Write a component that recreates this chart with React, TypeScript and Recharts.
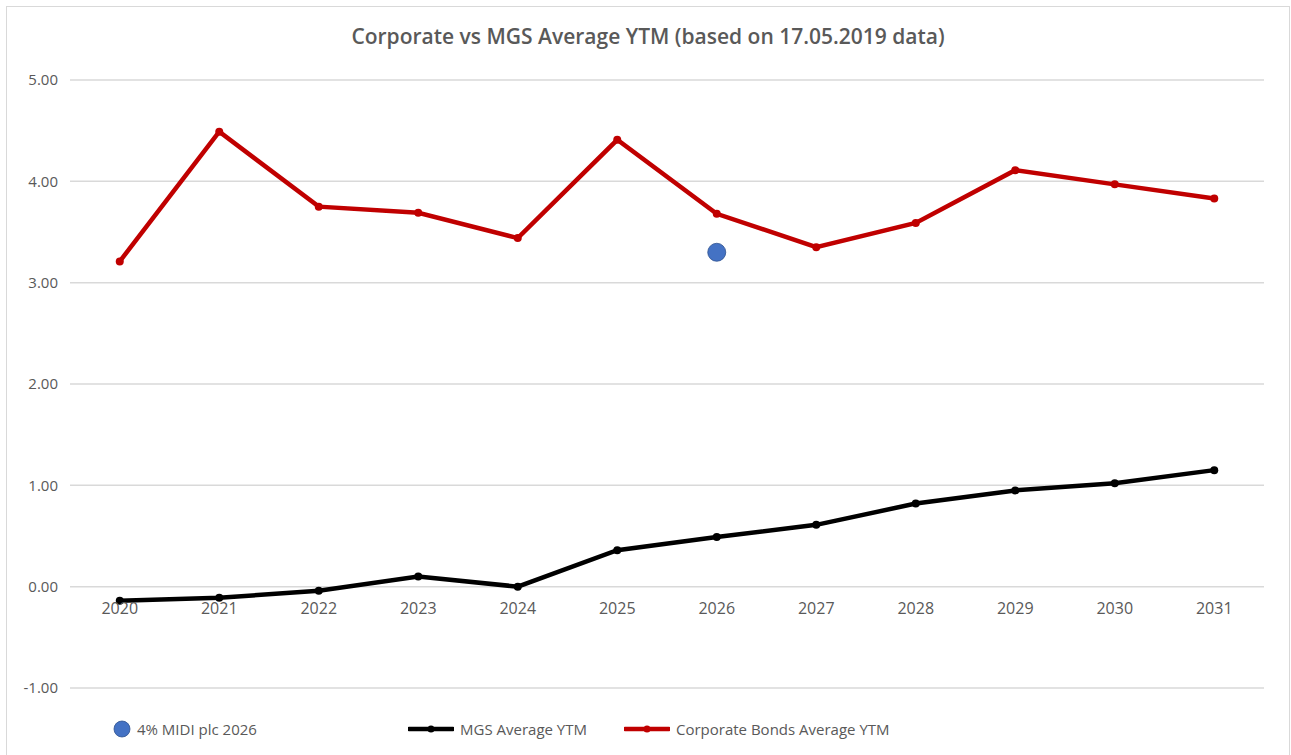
import React from 'react'
import {
  ComposedChart, Line, XAxis, YAxis, CartesianGrid, ReferenceDot
} from 'recharts'

const years = ['2020', '2021', '2022', '2023', '2024', '2025', '2026', '2027', '2028', '2029', '2030', '2031']
const corporateYtm = [3.21, 4.49, 3.75, 3.69, 3.44, 4.41, 3.68, 3.35, 3.59, 4.11, 3.97, 3.83]
const mgsYtm = [-0.14, -0.11, -0.04, 0.10, 0.0, 0.36, 0.49, 0.61, 0.82, 0.95, 1.02, 1.15]
const midiYtm = [null, null, null, null, null, null, 3.30, null, null, null, null, null]
const yTicks = [-1, 0, 1, 2, 3, 4, 5]

const data = years.map((year, i) => ({
  year,
  corporate: corporateYtm[i],
  mgs: mgsYtm[i],
  midi: midiYtm[i],
}))

const FONT = '"Open Sans", "Liberation Sans", sans-serif'
const TEXT = '#595959'
const W = 1282
const H = 748

function LegendRow() {
  const item: React.CSSProperties = { position: 'absolute', top: 0, display: 'flex', alignItems: 'center', height: 20 }
  const label: React.CSSProperties = { fontSize: 15, color: TEXT, marginLeft: 6, whiteSpace: 'nowrap' }
  const lineKey = (color: string) => (
    <svg width={46} height={12}>
      <line x1={1} y1={6} x2={45} y2={6} stroke={color} strokeWidth={4.5} strokeLinecap="round" />
      <circle cx={23} cy={6} r={3.5} fill={color} />
    </svg>
  )
  return (
    <div style={{ position: 'absolute', left: 0, top: 712, width: W, height: 20, fontFamily: FONT }}>
      <div style={{ ...item, left: 106 }}>
        <svg width={18} height={18}><circle cx={9} cy={9} r={8} fill="#4472c4" stroke="#2f528f" strokeWidth={0.8} /></svg>
        <span style={label}>4% MIDI plc 2026</span>
      </div>
      <div style={{ ...item, left: 401 }}>
        {lineKey('#000000')}
        <span style={label}>MGS Average YTM</span>
      </div>
      <div style={{ ...item, left: 617 }}>
        {lineKey('#c00000')}
        <span style={label}>Corporate Bonds Average YTM</span>
      </div>
    </div>
  )
}

export default function App() {
  return (
    <div style={{
      position: 'absolute', left: 6, top: 6, width: W, height: H,
      border: '1px solid #d9d9d9', borderBottom: 'none', background: '#fff', fontFamily: FONT
    }}>
      <div style={{
        position: 'absolute', left: 0, top: 15, width: W, textAlign: 'center',
        fontSize: 21, fontWeight: 600, color: TEXT
      }}>
        Corporate vs MGS Average YTM (based on 17.05.2019 data)
      </div>

      <ComposedChart width={W} height={H} data={data} margin={{ top: 73, right: 25, bottom: 67, left: 0 }}>
        <CartesianGrid vertical={false} stroke="#d9d9d9" strokeWidth={1.5} />
        <XAxis dataKey="year" scale="band" hide />
        <YAxis
          domain={[-1, 5]} ticks={yTicks} width={63} interval={0}
          axisLine={false} tickLine={false} tickSize={0} tickMargin={12}
          tick={{ fill: TEXT, fontSize: 15, fontFamily: FONT }}
          tickFormatter={(v: number) => v.toFixed(2)}
        />
        {years.map(y => (
          <ReferenceDot key={y} x={y} y={0} r={0} fill="none" stroke="none"
            label={{ value: y, position: 'bottom', offset: 16, fill: TEXT, fontSize: 16, fontFamily: FONT }} />
        ))}
        <Line dataKey="mgs" stroke="#000000" strokeWidth={4.5} isAnimationActive={false}
          dot={{ r: 4, fill: '#000000', stroke: 'none' }} />
        <Line dataKey="corporate" stroke="#c00000" strokeWidth={4.5} isAnimationActive={false}
          dot={{ r: 4, fill: '#c00000', stroke: 'none' }} />
        <Line dataKey="midi" stroke="none" isAnimationActive={false} connectNulls={false}
          dot={{ r: 9, fill: '#4472c4', stroke: '#2f528f', strokeWidth: 0.8 }} />
      </ComposedChart>

      <LegendRow />
    </div>
  )
}
